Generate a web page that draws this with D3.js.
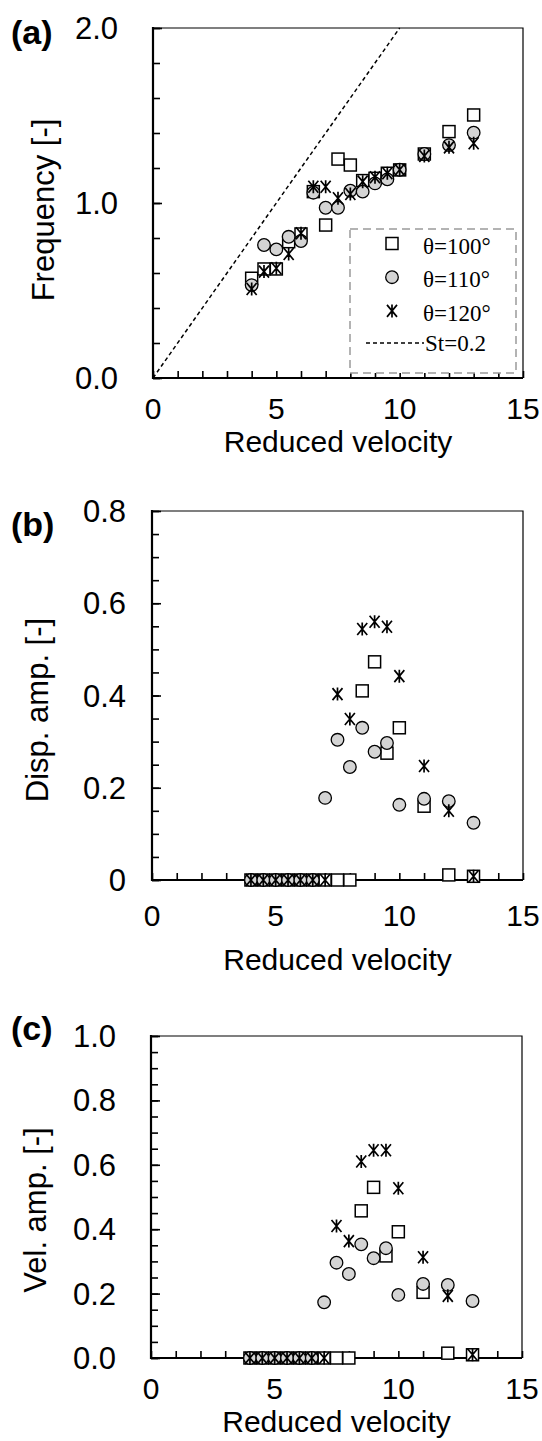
<!DOCTYPE html>
<html>
<head>
<meta charset="utf-8">
<script src="https://cdn.jsdelivr.net/npm/d3@7"></script>
<style>
  body { margin: 0; background: #fff; }
  svg text { font-family: "Liberation Sans", Arial, Helvetica, sans-serif; fill: #000; }
  .legend text { font-family: "Liberation Serif", "Times New Roman", serif; }
</style>
</head>
<body>
<div id="chart"></div>
<script>
// Reduced velocity (shared x values)
const velocity = [4, 4.5, 5, 5.5, 6, 6.5, 7, 7.5, 8, 8.5, 9, 9.5, 10, 11, 12, 13];

// (a) frequency
const freq100 = [0.57, 0.623, 0.623, 0.779, 0.823, 1.065, 0.874, 1.251, 1.217, 1.128, 1.141, 1.17, 1.189, 1.28, 1.408, 1.503];
const freq110 = [0.531, 0.76, 0.735, 0.807, 0.783, 1.059, 0.973, 0.973, 1.07, 1.065, 1.112, 1.135, 1.19, 1.28, 1.331, 1.402];
const freq120 = [0.509, 0.608, 0.627, 0.709, 0.827, 1.093, 1.093, 1.027, 1.051, 1.122, 1.147, 1.17, 1.19, 1.269, 1.318, 1.341];
const stLine = [[0, 0], [10, 2]];   // St = 0.2

// (b) displacement amplitude
const disp100 = [0, 0, 0, 0, 0, 0, 0, 0, 0, 0.41, 0.473, 0.275, 0.33, 0.16, 0.011, 0.008];
const disp110 = [0, 0, 0, 0, 0, 0, 0.178, 0.304, 0.245, 0.33, 0.278, 0.297, 0.163, 0.176, 0.171, 0.124];
const disp120 = [0, 0, 0, 0, 0, 0, 0, 0.403, 0.349, 0.544, 0.56, 0.549, 0.442, 0.247, 0.15, 0.008];

// (c) velocity amplitude
const vel100 = [0, 0, 0, 0, 0, 0, 0, 0, 0, 0.457, 0.53, 0.317, 0.392, 0.204, 0.015, 0.01];
const vel110 = [0, 0, 0, 0, 0, 0, 0.173, 0.296, 0.261, 0.353, 0.31, 0.341, 0.196, 0.23, 0.227, 0.177];
const vel120 = [0, 0, 0, 0, 0, 0, 0, 0.41, 0.363, 0.61, 0.645, 0.645, 0.527, 0.313, 0.193, 0.01];

const seriesNames = ["θ=100°", "θ=110°", "θ=120°"];
const xTicks = [0, 5, 10, 15];

const svg = d3.select("#chart").append("svg")
    .attr("width", 542)
    .attr("height", 1441);

// draw one marker shape at (0,0)
function marker(g, kind) {
    if (kind === 0) {
        g.append("rect").attr("x", -6).attr("y", -6).attr("width", 12).attr("height", 12)
            .attr("fill", "#fff").attr("stroke", "#000").attr("stroke-width", 1.5);
    } else if (kind === 1) {
        g.append("circle").attr("r", 6.3)
            .attr("fill", "#d4d4d4").attr("stroke", "#000").attr("stroke-width", 1.3);
    } else {
        g.append("path").attr("d", "M-5,-6L5,6M5,-6L-5,6M0,-6.5V6.5")
            .attr("fill", "none").attr("stroke", "#000").attr("stroke-width", 1.7);
    }
}

function panel(opt) {
    const x = d3.scaleLinear().domain([0, 15]).range([opt.left, opt.right]);
    const y = d3.scaleLinear().domain([0, opt.ymax]).range([opt.bottom, opt.top]);
    const g = svg.append("g");

    // frame: thin top/right, heavier left/bottom
    g.append("path")
        .attr("d", `M${opt.left},${opt.top}H${opt.right}V${opt.bottom}`)
        .attr("fill", "none").attr("stroke", "#000").attr("stroke-width", 1.2);

    // y ticks (inward)
    g.append("g").attr("transform", `translate(${opt.left},0)`)
        .call(d3.axisRight(y).tickValues(d3.range(0, opt.ymax + 1e-9, opt.minor)).tickSize(7).tickFormat(""))
        .call(s => s.select(".domain").remove())
        .selectAll("line").attr("stroke-width", 1.6);
    g.append("g").attr("transform", `translate(${opt.left},0)`)
        .call(d3.axisRight(y).tickValues(opt.yLabels).tickSize(9).tickFormat(""))
        .call(s => s.select(".domain").remove())
        .selectAll("line").attr("stroke-width", 1.6);

    // x ticks (inward)
    g.append("g").attr("transform", `translate(0,${opt.bottom})`)
        .call(d3.axisTop(x).tickValues(d3.range(0, 16, 1)).tickSize(7).tickFormat(""))
        .call(s => s.select(".domain").remove())
        .selectAll("line").attr("stroke-width", 1.6);

    // left and bottom axis lines
    g.append("path")
        .attr("d", `M${opt.left},${opt.top - 1}V${opt.bottom}H${opt.right}`)
        .attr("fill", "none").attr("stroke", "#000").attr("stroke-width", 2.2);

    // y tick labels
    g.selectAll(".ylab").data(opt.yLabels).join("text")
        .attr("x", opt.left - opt.labGap)
        .attr("y", d => y(d) + 11)
        .attr("text-anchor", "end")
        .attr("font-size", 31)
        .text(opt.yFormat);

    // x tick labels
    g.selectAll(".xlab").data(xTicks).join("text")
        .attr("x", d => x(d))
        .attr("y", opt.xLabY)
        .attr("text-anchor", "middle")
        .attr("font-size", 30)
        .text(d => d);

    g.append("text")
        .attr("x", (opt.left + opt.right) / 2)
        .attr("y", opt.xTitleY)
        .attr("text-anchor", "middle")
        .attr("font-size", 30)
        .text("Reduced velocity");

    g.append("text")
        .attr("transform", `translate(${opt.yTitleX},${opt.yTitleY}) rotate(-90)`)
        .attr("text-anchor", "middle")
        .attr("font-size", 31)
        .text(opt.yTitle);

    g.append("text")
        .attr("x", 11).attr("y", opt.tagY)
        .attr("font-size", 34).attr("font-weight", "bold")
        .text(opt.tag);

    if (opt.extra) opt.extra(g, x, y);

    // markers: squares, then circles, then asterisks
    opt.series.forEach((vals, k) => {
        g.append("g").selectAll("g").data(vals).join("g")
            .attr("transform", (d, i) => `translate(${x(velocity[i])},${y(d)})`)
            .each(function() { marker(d3.select(this), k); });
    });
}

// (a)
panel({
    tag: "(a)", tagY: 44,
    left: 153, right: 523, top: 28, bottom: 378, ymax: 2, minor: 0.2,
    yLabels: [0, 1, 2], yFormat: d => d.toFixed(1), labGap: 35,
    xLabY: 419, xTitleY: 452,
    yTitle: "Frequency [-]", yTitleX: 54, yTitleY: 210,
    series: [freq100, freq110, freq120],
    extra: (g, x, y) => {
        g.append("path")
            .attr("d", d3.line().x(d => x(d[0])).y(d => y(d[1]))(stLine))
            .attr("fill", "none").attr("stroke", "#000")
            .attr("stroke-width", 1.5).attr("stroke-dasharray", "4,3");

        const lg = g.append("g").attr("class", "legend");
        lg.append("rect")
            .attr("x", 350).attr("y", 229).attr("width", 166).attr("height", 144)
            .attr("fill", "#fff").attr("stroke", "#9a9a9a")
            .attr("stroke-width", 1.5).attr("stroke-dasharray", "8,5");
        seriesNames.forEach((name, k) => {
            const row = lg.append("g").attr("transform", `translate(392,${243.5 + k * 33.7})`);
            marker(row, k);
            lg.append("text")
                .attr("x", 423).attr("y", 254 + k * 33.3)
                .attr("font-size", 23)
                .text(name);
        });
        lg.append("line")
            .attr("x1", 366).attr("x2", 424).attr("y1", 343).attr("y2", 343)
            .attr("stroke", "#000").attr("stroke-width", 1.5).attr("stroke-dasharray", "4,3");
        lg.append("text")
            .attr("x", 425).attr("y", 351)
            .attr("font-size", 23)
            .text("St=0.2");
    }
});

// (b)
panel({
    tag: "(b)", tagY: 536,
    left: 152, right: 523, top: 511, bottom: 880, ymax: 0.8, minor: 0.05,
    yLabels: [0, 0.2, 0.4, 0.6, 0.8], yFormat: d => d === 0 ? "0" : d.toFixed(1), labGap: 26,
    xLabY: 926, xTitleY: 970,
    yTitle: "Disp. amp. [-]", yTitleX: 48, yTitleY: 710,
    series: [disp100, disp110, disp120]
});

// (c)
panel({
    tag: "(c)", tagY: 1040,
    left: 151, right: 522, top: 1036, bottom: 1358, ymax: 1.0, minor: 0.05,
    yLabels: [0, 0.2, 0.4, 0.6, 0.8, 1.0], yFormat: d => d.toFixed(1), labGap: 35,
    xLabY: 1399, xTitleY: 1432,
    yTitle: "Vel. amp. [-]", yTitleX: 46, yTitleY: 1210,
    series: [vel100, vel110, vel120]
});
</script>
</body>
</html>
